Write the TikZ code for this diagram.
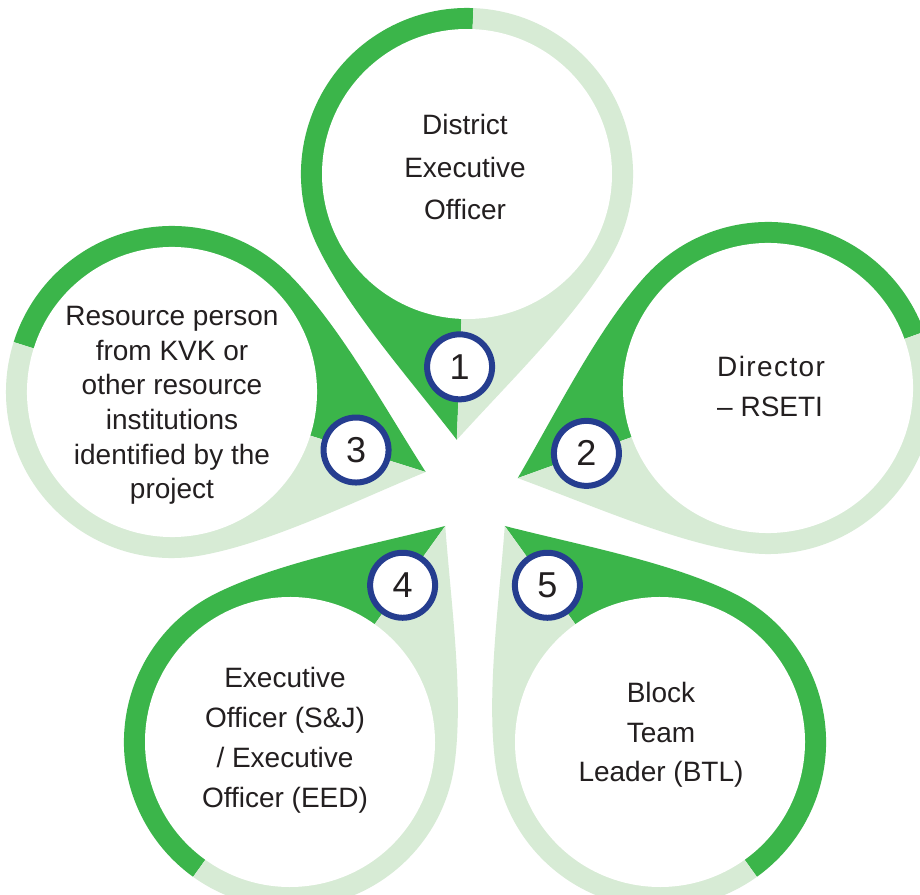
\documentclass[tikz,border=0pt]{standalone}
\usepackage{fontspec}
\setmainfont{Liberation Sans}
\definecolor{gr}{RGB}{59,181,74}
\definecolor{lg}{RGB}{215,235,213}
\definecolor{navy}{RGB}{37,61,143}
\definecolor{ink}{RGB}{35,31,32}
% #1 name, #2 x, #3 y, #4 angle towards tip, #5 side (1 or -1), #6 number
\newcommand\pindrop[6]{%
 \begin{scope}[shift={(#2,#3)}, rotate=#4, yscale=#5]
  \coordinate (c#1) at (0,0);
  \fill[gr] (266,0) .. controls (204.7,51.4) and (139.7,113.7) .. (77.9,146.6)
     arc[start angle=62,end angle=180,radius=166] -- cycle;
  \fill[lg] (266,0) .. controls (204.7,-51.4) and (139.7,-113.7) .. (77.9,-146.6)
     arc[start angle=-62,end angle=-180,radius=166] -- cycle;
  \fill[white] (c#1) circle[radius=145];
  \node[badge] (b#1) at (193,0) {#6};
 \end{scope}}
\begin{document}
\begin{tikzpicture}[x=1pt,y=1pt,
  badge/.style={circle, draw=navy, line width=6pt, fill=white, minimum size=65pt,
     inner sep=0pt, text=ink, font=\fontsize{36}{36}\selectfont},
  lbl/.style={text=ink, align=center, inner sep=0pt}]
\useasboundingbox (0,0) rectangle (920,894);
\clip (0,0) rectangle (920,894);
\fill[white] (0,0) rectangle (920,894);
\pindrop{1}{467}{720}{267.8}{-1}{1}
\pindrop{2}{768}{506}{199.8}{-1}{2}
\pindrop{3}{172}{502}{342.5}{1}{3}
\pindrop{4}{290}{152}{54.3}{1}{4}
\pindrop{5}{660}{152}{125.7}{-1}{5}
\node[lbl, font=\fontsize{28}{42.5}\selectfont] (t1) at (465,726.5)
  {District\\Executive\\Officer};
\node[lbl, align=left, anchor=west, font=\fontsize{28}{40}\selectfont] (t2) at (717,507.5)
  {{\addfontfeatures{LetterSpace=5}Director}\\– RSETI};
\node[lbl, font=\fontsize{28}{34.6}\selectfont] (t3) at (172,488.5)
  {Resource person\\from KVK or\\other resource\\institutions\\identified by the\\project};
\node[lbl, font=\fontsize{28}{40}\selectfont] (t4) at (285,154)
  {Executive\\Officer (S\&J)\\/ Executive\\Officer (EED)};
\node[lbl, font=\fontsize{28}{39.5}\selectfont] (t5) at (661,159)
  {Block\\Team\\Leader (BTL)};
\end{tikzpicture}
\end{document}
